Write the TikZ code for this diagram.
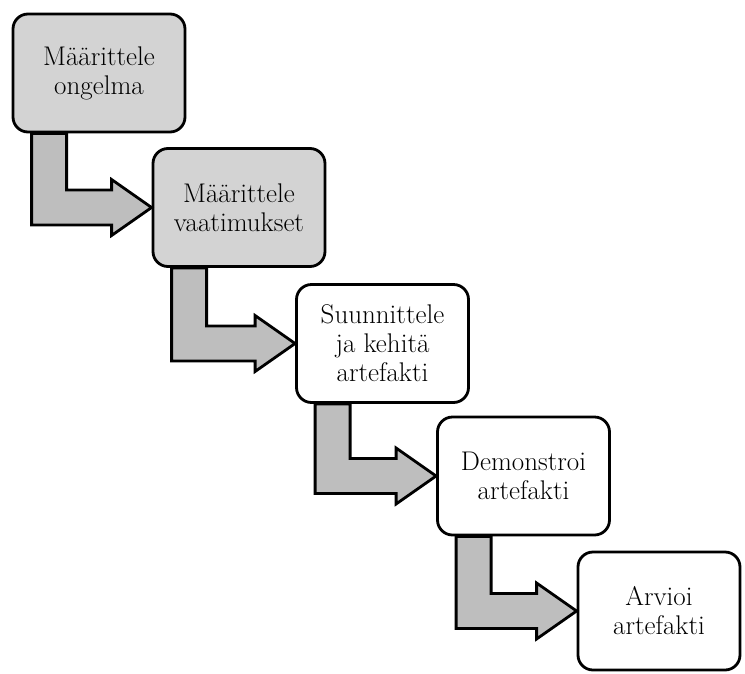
\documentclass[tikz,border=0pt]{standalone}
\usetikzlibrary{calc}
\definecolor{boxgray}{RGB}{211,211,211}
\definecolor{arrowgray}{RGB}{190,190,190}
\tikzset{
  phase/.style={draw, line width=2.8pt, rounded corners=15pt, minimum width=172pt,
    minimum height=118pt, align=center, inner sep=2pt,
    font=\fontsize{27}{29}\selectfont},
  donephase/.style={phase, fill=boxgray},
  flowarrow/.style={draw, line width=2.8pt, fill=arrowgray, line join=miter}
}
\begin{document}
\begin{tikzpicture}[x=1pt, y=-1pt]
  \useasboundingbox (0,0) rectangle (745,673);
  % process steps
  \node[donephase] (maar) at (99,73) {Määrittele\\ongelma};
  \node[donephase] (vaat) at (239,207.5) {Määrittele\\vaatimukset};
  \node[phase] (suun) at (382.5,343.5) {Suunnittele\\ja kehitä\\artefakti};
  \node[phase] (demo) at (523.5,476) {Demonstroi\\artefakti};
  \node[phase, minimum width=162pt] (arvi) at (659,611) {Arvioi\\artefakti};
  % bent arrows between the steps
  \foreach \s/\t in {maar/vaat, vaat/suun, suun/demo, demo/arvi}{
    \draw[flowarrow] ($(\s.south west)+(20,0)$) coordinate (start) -- ++(35,0)
      |- ($(\t.west)+(-40,-17.5)$) -- ++(0,-10.5) -- (\t.west)
      -- ++(-40,28) -- ++(0,-10.5) -| (start) -- cycle;
  }
\end{tikzpicture}
\end{document}
